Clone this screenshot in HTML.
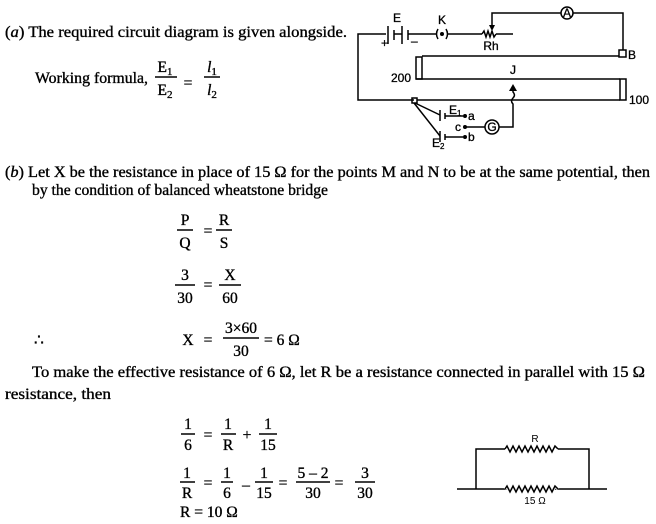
<!DOCTYPE html>
<html><head><meta charset="utf-8"><style>
html,body{margin:0;padding:0;background:#fff;}
svg{display:block;}
.t{font-family:"Liberation Serif",serif;font-size:15.5px;fill:#000;stroke:#000;stroke-width:0.35;}
.s{font-family:"Liberation Sans",sans-serif;font-size:12px;fill:#000;stroke:#000;stroke-width:0.3;}
.w{stroke:#000;stroke-width:1.5;fill:none;}
</style></head><body>
<svg width="656" height="524" viewBox="0 0 656 524" xmlns="http://www.w3.org/2000/svg">
<!-- (a) -->
<text class="t" x="5" y="37" textLength="342" lengthAdjust="spacingAndGlyphs">(<tspan font-style="italic">a</tspan>)  The required circuit diagram is given alongside.</text>
<text class="t" x="35" y="83" textLength="113" lengthAdjust="spacingAndGlyphs">Working formula,</text>
<text class="t" x="165" y="72" text-anchor="middle">E<tspan font-size="11" dy="3">1</tspan></text>
<line class="w" x1="155" y1="77" x2="177" y2="77"/>
<text class="t" x="165" y="95" text-anchor="middle">E<tspan font-size="11" dy="3">2</tspan></text>
<text class="t" x="188" y="88" text-anchor="middle">=</text>
<text class="t" x="212" y="72" text-anchor="middle" font-style="italic">l<tspan font-size="11" dy="3" font-style="normal">1</tspan></text>
<line class="w" x1="204" y1="77" x2="220" y2="77"/>
<text class="t" x="212" y="95" text-anchor="middle" font-style="italic">l<tspan font-size="11" dy="3" font-style="normal">2</tspan></text>

<!-- circuit -->
<g class="w">
<polyline points="386,34 358,34 358,100 414,100"/>
<polyline points="417,100 620,100"/>
<line x1="388" y1="26" x2="388" y2="44"/><line x1="394" y1="30" x2="394" y2="40"/>
<line x1="402" y1="26" x2="402" y2="44"/><line x1="408" y1="30" x2="408" y2="40"/>
<line x1="394" y1="34" x2="402" y2="34"/>
<line x1="408" y1="34" x2="436" y2="34"/>
<path d="M438,29 Q435,34 438,39 M446,29 Q449,34 446,39"/>
<line x1="448" y1="34" x2="482" y2="34"/>
<polyline points="482,34 484,31 486,37 488,31 490,37 492,31 494,37 496,34"/>
<line x1="496" y1="34" x2="513" y2="34"/>
<polyline points="492,28 492,13 561,13"/>
<circle cx="567" cy="13" r="6"/>
<polyline points="573,13 623,13 623,50"/>
<rect x="619" y="50" width="7" height="7"/>
<line x1="422" y1="56" x2="619" y2="56"/>
<rect x="416" y="57" width="6" height="22"/>
<line x1="416" y1="79" x2="620" y2="79"/>
<rect x="620" y="79" width="6" height="21"/>
<rect x="412" y="98" width="5" height="5"/>
<line x1="415" y1="103" x2="440" y2="115"/>
<line x1="414" y1="103" x2="440" y2="136"/>
<line x1="440" y1="110" x2="440" y2="121"/><line x1="445" y1="113" x2="445" y2="119"/>
<line x1="445" y1="116" x2="463" y2="116"/>
<line x1="440" y1="131" x2="440" y2="142"/><line x1="445" y1="134" x2="445" y2="140"/>
<line x1="445" y1="137" x2="463" y2="137"/>
<line x1="465" y1="127" x2="485" y2="127"/>
<circle cx="492" cy="127" r="7"/>
<path d="M499,127 L513,127 L513,104 Q510,101 513,98 Q516,95 513,92 L513,88"/>
</g>
<polygon points="492,31 489,25 495,25" fill="#000"/>
<polygon points="513,84 509,91 517,91" fill="#000"/>
<circle cx="442" cy="34" r="2" fill="#000"/>
<circle cx="465" cy="116" r="2" fill="#000"/>
<circle cx="465" cy="127" r="2" fill="#000"/>
<circle cx="465" cy="137" r="2" fill="#000"/>
<text class="s" x="397" y="22" text-anchor="middle">E</text>
<text class="s" x="381" y="47">+</text>
<text class="s" x="411" y="45">–</text>
<text class="s" x="442" y="24" text-anchor="middle">K</text>
<text class="s" x="491" y="50" text-anchor="middle">Rh</text>
<text class="s" x="567" y="17" text-anchor="middle" font-size="11">A</text>
<text class="s" x="628" y="59">B</text>
<text class="s" x="391" y="82">200</text>
<text class="s" x="513" y="74" text-anchor="middle">J</text>
<text class="s" x="629" y="104">100</text>
<text class="s" x="449" y="114">E<tspan font-size="8" dy="2">1</tspan></text>
<text class="s" x="468" y="120">a</text>
<text class="s" x="455" y="131">c</text>
<text class="s" x="492" y="131" text-anchor="middle" font-size="11">G</text>
<text class="s" x="432" y="147">E<tspan font-size="8" dy="2">2</tspan></text>
<text class="s" x="468" y="141">b</text>

<!-- (b) -->
<text class="t" x="5" y="177" textLength="645" lengthAdjust="spacingAndGlyphs">(<tspan font-style="italic">b</tspan>)  Let X be the resistance in place of 15 Ω for the points M and N to be at the same potential, then</text>
<text class="t" x="32" y="195" textLength="296" lengthAdjust="spacingAndGlyphs">by the condition of balanced wheatstone bridge</text>

<text class="t" x="185" y="225" text-anchor="middle">P</text>
<line class="w" x1="177" y1="230" x2="193" y2="230"/>
<text class="t" x="185" y="248" text-anchor="middle">Q</text>
<text class="t" x="208" y="236" text-anchor="middle">=</text>
<text class="t" x="224" y="225" text-anchor="middle">R</text>
<line class="w" x1="216" y1="230" x2="232" y2="230"/>
<text class="t" x="224" y="248" text-anchor="middle">S</text>

<text class="t" x="185" y="280" text-anchor="middle">3</text>
<line class="w" x1="175" y1="285" x2="195" y2="285"/>
<text class="t" x="185" y="303" text-anchor="middle">30</text>
<text class="t" x="208" y="290" text-anchor="middle">=</text>
<text class="t" x="230" y="280" text-anchor="middle">X</text>
<line class="w" x1="219" y1="285" x2="241" y2="285"/>
<text class="t" x="230" y="303" text-anchor="middle">60</text>

<text class="t" x="34" y="345">∴</text>
<text class="t" x="188" y="345" text-anchor="middle">X</text>
<text class="t" x="208" y="345" text-anchor="middle">=</text>
<text class="t" x="241" y="333" text-anchor="middle">3×60</text>
<line class="w" x1="223" y1="338" x2="259" y2="338"/>
<text class="t" x="241" y="356" text-anchor="middle">30</text>
<text class="t" x="264" y="345">= 6 Ω</text>

<text class="t" x="32" y="377" textLength="613" lengthAdjust="spacingAndGlyphs">To make the effective resistance of 6 Ω, let R be a resistance connected in parallel with 15 Ω</text>
<text class="t" x="5" y="399" textLength="106" lengthAdjust="spacingAndGlyphs">resistance, then</text>

<text class="t" x="188" y="429" text-anchor="middle">1</text>
<line class="w" x1="181" y1="434" x2="195" y2="434"/>
<text class="t" x="188" y="450" text-anchor="middle">6</text>
<text class="t" x="208" y="440" text-anchor="middle">=</text>
<text class="t" x="228" y="429" text-anchor="middle">1</text>
<line class="w" x1="221" y1="434" x2="236" y2="434"/>
<text class="t" x="228" y="450" text-anchor="middle">R</text>
<text class="t" x="247" y="440" text-anchor="middle">+</text>
<text class="t" x="268" y="429" text-anchor="middle">1</text>
<line class="w" x1="259" y1="434" x2="277" y2="434"/>
<text class="t" x="268" y="450" text-anchor="middle">15</text>

<text class="t" x="187" y="478" text-anchor="middle">1</text>
<line class="w" x1="180" y1="482" x2="195" y2="482"/>
<text class="t" x="187" y="498" text-anchor="middle">R</text>
<text class="t" x="208" y="488" text-anchor="middle">=</text>
<text class="t" x="227" y="478" text-anchor="middle">1</text>
<line class="w" x1="221" y1="482" x2="233" y2="482"/>
<text class="t" x="227" y="498" text-anchor="middle">6</text>
<text class="t" x="246" y="490" text-anchor="middle">–</text>
<text class="t" x="264" y="478" text-anchor="middle">1</text>
<line class="w" x1="255" y1="482" x2="273" y2="482"/>
<text class="t" x="264" y="498" text-anchor="middle">15</text>
<text class="t" x="283" y="488" text-anchor="middle">=</text>
<text class="t" x="313" y="478" text-anchor="middle">5 – 2</text>
<line class="w" x1="296" y1="482" x2="330" y2="482"/>
<text class="t" x="313" y="498" text-anchor="middle">30</text>
<text class="t" x="339" y="488" text-anchor="middle">=</text>
<text class="t" x="365" y="478" text-anchor="middle">3</text>
<line class="w" x1="355" y1="482" x2="375" y2="482"/>
<text class="t" x="365" y="498" text-anchor="middle">30</text>
<text class="t" x="180" y="517">R  = 10 Ω</text>

<!-- parallel -->
<g class="w" stroke-width="1.1">
<line x1="457" y1="489" x2="607" y2="489"/>
<polyline points="476,489 476,449 505,449"/>
<polyline points="558,449 589,449 589,489"/>
<polyline points="505,449 507,446 510,452 513,446 516,452 519,446 522,452 525,446 528,452 531,446 534,452 537,446 540,452 543,446 546,452 549,446 552,452 555,446 558,449"/>
<polyline points="505,489 507,486 510,492 513,486 516,492 519,486 522,492 525,486 528,492 531,486 534,492 537,486 540,492 543,486 546,492 549,486 552,492 555,486 558,489" stroke="#fff" stroke-width="3"/>
<polyline points="505,489 507,486 510,492 513,486 516,492 519,486 522,492 525,486 528,492 531,486 534,492 537,486 540,492 543,486 546,492 549,486 552,492 555,486 558,489"/>
</g>
<text x="535" y="442" text-anchor="middle" font-family="Liberation Sans, sans-serif" font-size="10">R</text>
<text x="535" y="504" text-anchor="middle" font-family="Liberation Sans, sans-serif" font-size="10">15 Ω</text>
</svg>
</body></html>
